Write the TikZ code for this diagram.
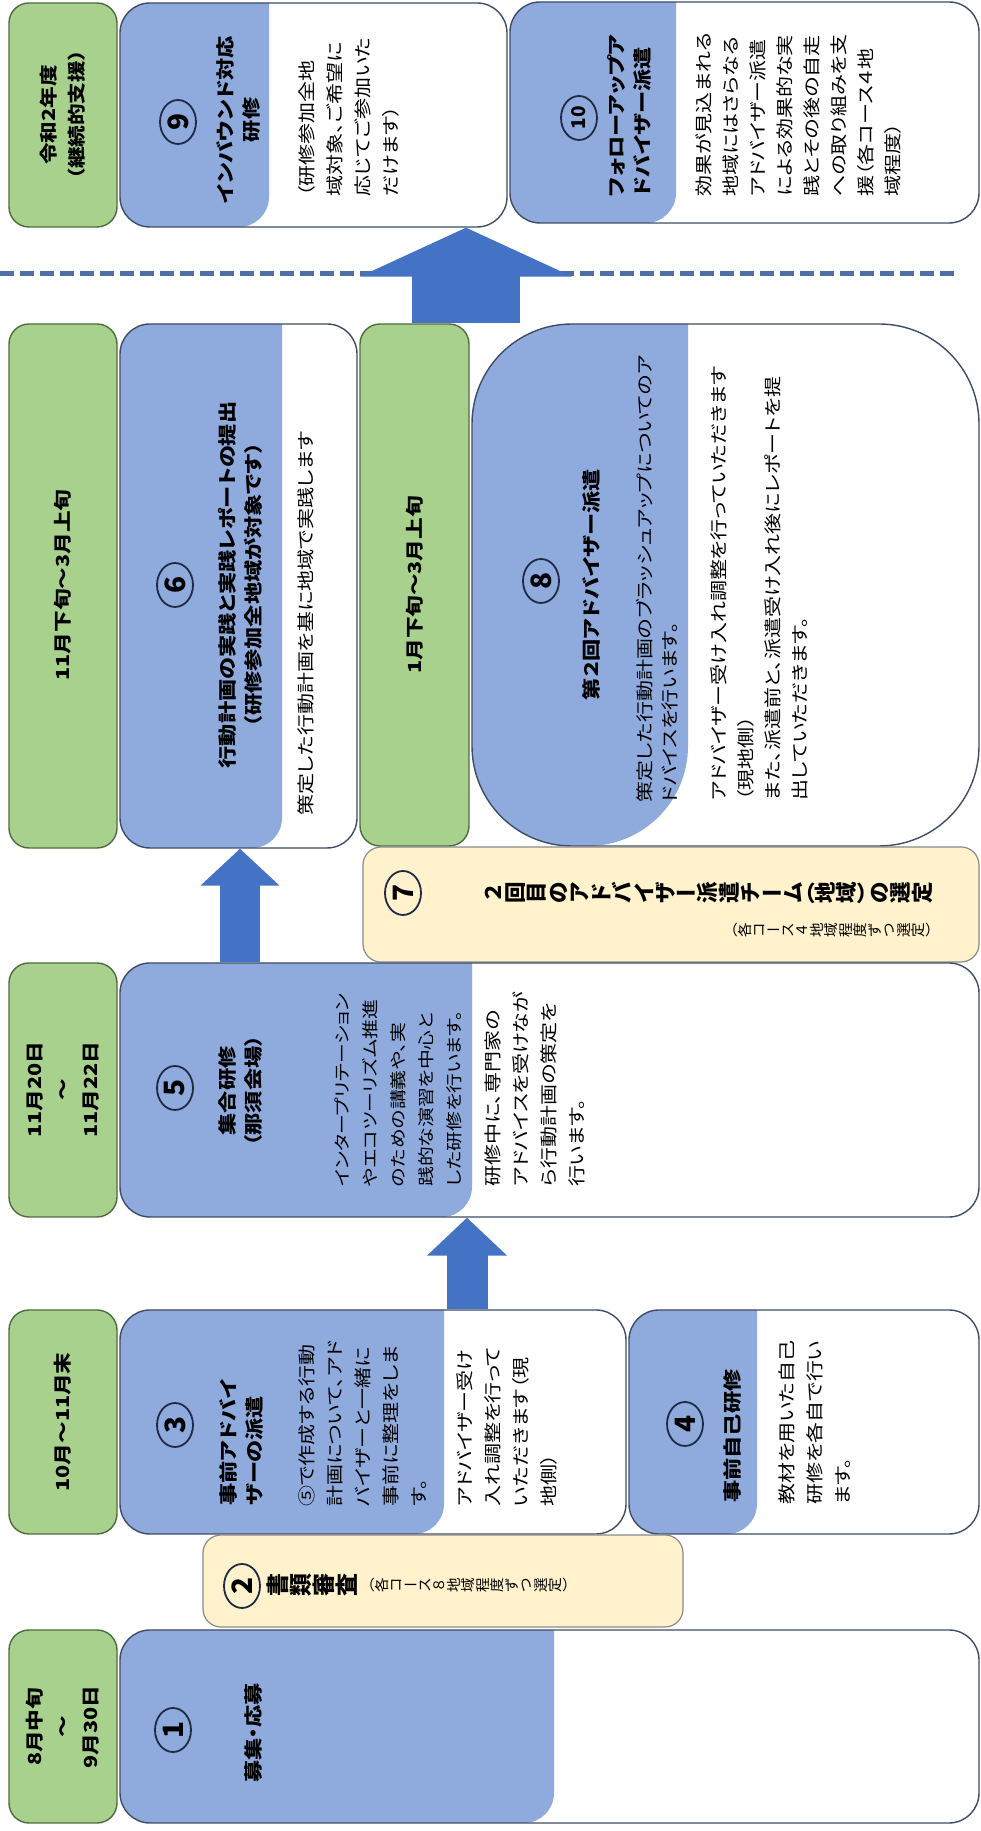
\documentclass[tikz,border=0pt]{standalone}
\usepackage{fontspec}
\setmainfont{Noto Sans CJK JP}[RawFeature=+palt]
\usepackage{graphicx}
\usetikzlibrary{arrows.meta,shapes.geometric}
\definecolor{bfill}{HTML}{8FAADC}
\definecolor{gfill}{HTML}{A9D18E}
\definecolor{yfill}{HTML}{FFF2CC}
\definecolor{bordc}{HTML}{3E4C66}
\definecolor{gborder}{HTML}{506B3E}
\definecolor{yborder}{HTML}{8A8A8A}
\definecolor{arrc}{HTML}{4472C4}
\definecolor{dashc}{HTML}{4D6FA6}
\definecolor{circc}{HTML}{1F2B44}
\newcommand\rc[1]{\raisebox{-0.12em}{\rotatebox{90}{\raisebox{0pt}[0.88em][0.12em]{\makebox[1em][c]{#1}}}}}
\def\vt#1{\vtaux#1\relax}
\def\vtaux#1{\ifx\relax#1\else\rc{#1}\expandafter\vtaux\fi}
\begin{document}
\begin{tikzpicture}[x=1pt,y=1pt,
  box/.style={draw=bordc, line width=1.4pt, fill=white, rounded corners=30pt, inner sep=0pt},
  split/.style={path picture={\fill[bfill] (path picture bounding box.south west) rectangle ++(#1,3000pt);}},
  gbox/.style={draw=gborder, line width=1.4pt, fill=gfill, rounded corners=20pt, inner sep=0pt},
  ybox/.style={draw=yborder, line width=1.2pt, fill=yfill, rounded corners=18pt, inner sep=0pt},
  barrow/.style={draw=arrc, color=arrc},
  dashline/.style={draw=dashc, line width=5pt, dash pattern=on 14pt off 6pt},
  num/.style={ellipse, draw=circc, line width=1.8pt, minimum width=36pt, minimum height=44pt, inner sep=0pt, font=\bfseries\fontsize{28}{28}\selectfont},
  rt/.style={rotate=90, xscale=1.2, inner sep=0pt, text=black},
  dt/.style={rt, align=center, font=\bfseries\fontsize{18}{28}\selectfont},
  ttl/.style={rt, align=left, font=\bfseries\fontsize{18.5}{26}\selectfont},
  desc/.style={rt, align=left, font=\fontsize{17.5}{28}\selectfont},
  vtxt/.style={inner sep=0pt, text=black}
]
\fill[white] (0,0) rectangle (981,1831);
\useasboundingbox (0,0) rectangle (981,1831);

% dashed separator
\coordinate (dl) at (0,1557);
\coordinate (dr) at (960,1557);
\draw[dashline] (dl) -- (dr);

% boxes
\node[gbox, minimum width=108pt, minimum height=224pt] (g9) at (63,1716) {};
\node[box, split=149pt, minimum width=387pt, minimum height=224pt] (b9) at (313.5,1716) {};
\node[box, split=166pt, minimum width=469pt, minimum height=221pt] (b10) at (744.5,1718.5) {};
\node[gbox, minimum width=108pt, minimum height=524pt] (g6) at (63,1245) {};
\node[box, split=162pt, minimum width=237pt, minimum height=524pt] (b6) at (238.5,1245) {};
\node[gbox, minimum width=109pt, minimum height=522pt] (g8) at (414.5,1246) {};
\begin{scope}[yscale=0.7, transform shape]
\node[box, split=216pt, rounded corners=100pt, minimum width=507pt, minimum height=745.7pt] (b8) at (725.5,1780) {};
\end{scope}
\node[ybox, minimum width=616pt, minimum height=115pt] (y7) at (671,926.5) {};
\node[gbox, minimum width=108pt, minimum height=254pt] (g5) at (63,741) {};
\node[box, split=352pt, minimum width=859pt, minimum height=254pt] (b5) at (549.5,741) {};
\node[gbox, minimum width=108pt, minimum height=224pt] (g3) at (63,409) {};
\node[box, split=324pt, minimum width=506pt, minimum height=224pt] (b3) at (373,409) {};
\node[box, split=128pt, minimum width=350pt, minimum height=224pt] (b4) at (804,409) {};
\node[ybox, minimum width=480pt, minimum height=92pt] (y2) at (443,250) {};
\node[gbox, minimum width=108pt, minimum height=193pt] (g1) at (63,104.5) {};
\node[box, split=434pt, minimum width=859pt, minimum height=193pt] (b1) at (549.5,104.5) {};

% block arrows
\coordinate (a1x) at (467,0);
\coordinate (a2x) at (240,0);
\coordinate (a3x) at (466,0);
\draw[barrow, line width=41pt, -{Triangle[length=38pt,width=78pt]}] (b3.north -| a1x) -- (b5.south -| a1x);
\draw[barrow, line width=40pt, -{Triangle[length=37pt,width=77pt]}] (b5.north -| a2x) -- (b6.south -| a2x);
\draw[barrow, line width=108pt, -{Triangle[length=49pt,width=211pt]}] (g8.north -| a3x) -- (b9.south -| a3x);

% circled numbers
\node[num] (c1) at (173,101) {\rotatebox{90}{1}};
\node[num] (c2) at (242,245) {\rotatebox{90}{2}};
\node[num] (c3) at (175,406) {\rotatebox{90}{3}};
\node[num] (c4) at (685,407) {\rotatebox{90}{4}};
\node[num] (c5) at (175,743) {\rotatebox{90}{5}};
\node[num] (c6) at (175,1246) {\rotatebox{90}{6}};
\node[num] (c7) at (403,938) {\rotatebox{90}{7}};
\node[num] (c8) at (541,1250) {\rotatebox{90}{8}};
\node[num] (c9) at (178,1709) {\rotatebox{90}{9}};
\node[num, font=\bfseries\fontsize{19}{19}\selectfont] (c10) at (579,1713) {\rotatebox{90}{10}};

% dates
\node[dt] (d1) at (63,104) {8月中旬\\～\\9月30日};
\node[dt] (d3) at (63,409) {10月～11月末};
\node[dt] (d5) at (63,741) {11月20日\\～\\11月22日};
\node[dt] (d6) at (63,1246) {11月下旬～3月上旬};
\node[dt] (d8) at (415,1246) {1月下旬～3月上旬};
\node[dt] (d9) at (63,1716) {令和2年度\\（継続的支援）};

% titles
\node[ttl, align=center] (t1) at (253,98) {募集・応募};
\node[ttl, anchor=north west] (t3) at (219,325) {事前アドバイ\\ザーの派遣};
\node[ttl, anchor=north west] (t4) at (723,328) {事前自己研修};
\node[ttl, align=center] (t5) at (240.5,740) {集合研修\\（那須会場）};
\node[ttl, align=center] (t6) at (240,1246) {行動計画の実践と実践レポートの提出\\（研修参加全地域が対象です）};
\node[ttl, align=center] (t8) at (591,1246) {第２回アドバイザー派遣};
\node[ttl, align=center] (t9) at (239,1711) {インバウンド対応\\研修};
\node[ttl, anchor=north west] (t10) at (607,1634) {フォローアップア\\ドバイザー派遣};

% descriptions
\node[desc, anchor=north west] (e3) at (298,324) {⑤で作成する行動\\計画について、アド\\バイザーと一緒に\\事前に整理をしま\\す。};
\node[desc, anchor=north west] (w3) at (457,324) {アドバイザー受け\\入れ調整を行って\\いただきます（現\\地側）};
\node[desc, anchor=north west] (w4) at (779,326) {教材を用いた自己\\研修を各自で行い\\ます。};
\node[desc, anchor=north west, font=\fontsize{16.5}{28}\selectfont] (e5) at (335,644) {インタープリテーション\\やエコツーリズム推進\\のための講義や、実\\践的な演習を中心と\\した研修を行います。};
\node[desc, anchor=north west] (w5) at (485,644) {研修中に、専門家の\\アドバイスを受けなが\\ら行動計画の策定を\\行います。};
\node[desc, anchor=north west] (w6) at (298,1015) {策定した行動計画を基に地域で実践します};
\node[desc, anchor=north west, font=\fontsize{17.5}{25}\selectfont] (e8) at (636,1028) {策定した行動計画のブラッシュアップについてのア\\ドバイスを行います。};
\node[desc, anchor=north west, font=\fontsize{17.5}{27}\selectfont] (w8) at (711,1030) {アドバイザー受け入れ調整を行っていただきます\\（現地側）\\また、派遣前と、派遣受け入れ後にレポートを提\\出していただきます。};
\node[desc, anchor=north west] (w9) at (298,1634) {（研修参加全地\\域対象、ご希望に\\応じてご参加いた\\だけます）};
\node[desc, anchor=north west, font=\fontsize{17.5}{27}\selectfont] (w10) at (695,1634) {効果が見込まれる\\地域にはさらなる\\アドバイザー派遣\\による効果的な実\\践とその後の自走\\への取り組みを支\\援（各コース４地\\域程度）};

% vertical-text strips
\node[vtxt, anchor=west, font=\bfseries\fontsize{23}{23}\selectfont] (s2) at (266,246) {\vt{書類審査}};
\node[vtxt, anchor=west, font=\fontsize{14.5}{14.5}\selectfont] (s2b) at (367,246) {（\vt{各コ}ー\vt{ス８地域程度ずつ選定}）};
\node[vtxt, anchor=east, font=\bfseries\fontsize{21.5}{21.5}\selectfont] (s7) at (933,938) {\vt{２回目のアドバイザ}ー\vt{派遣チ}ー\vt{ム}（\vt{地域}）\vt{の選定}};
\node[vtxt, anchor=east, font=\fontsize{14.5}{14.5}\selectfont] (s7b) at (933,901) {（\vt{各コ}ー\vt{ス４地域程度ずつ選定}）};
\end{tikzpicture}
\end{document}
